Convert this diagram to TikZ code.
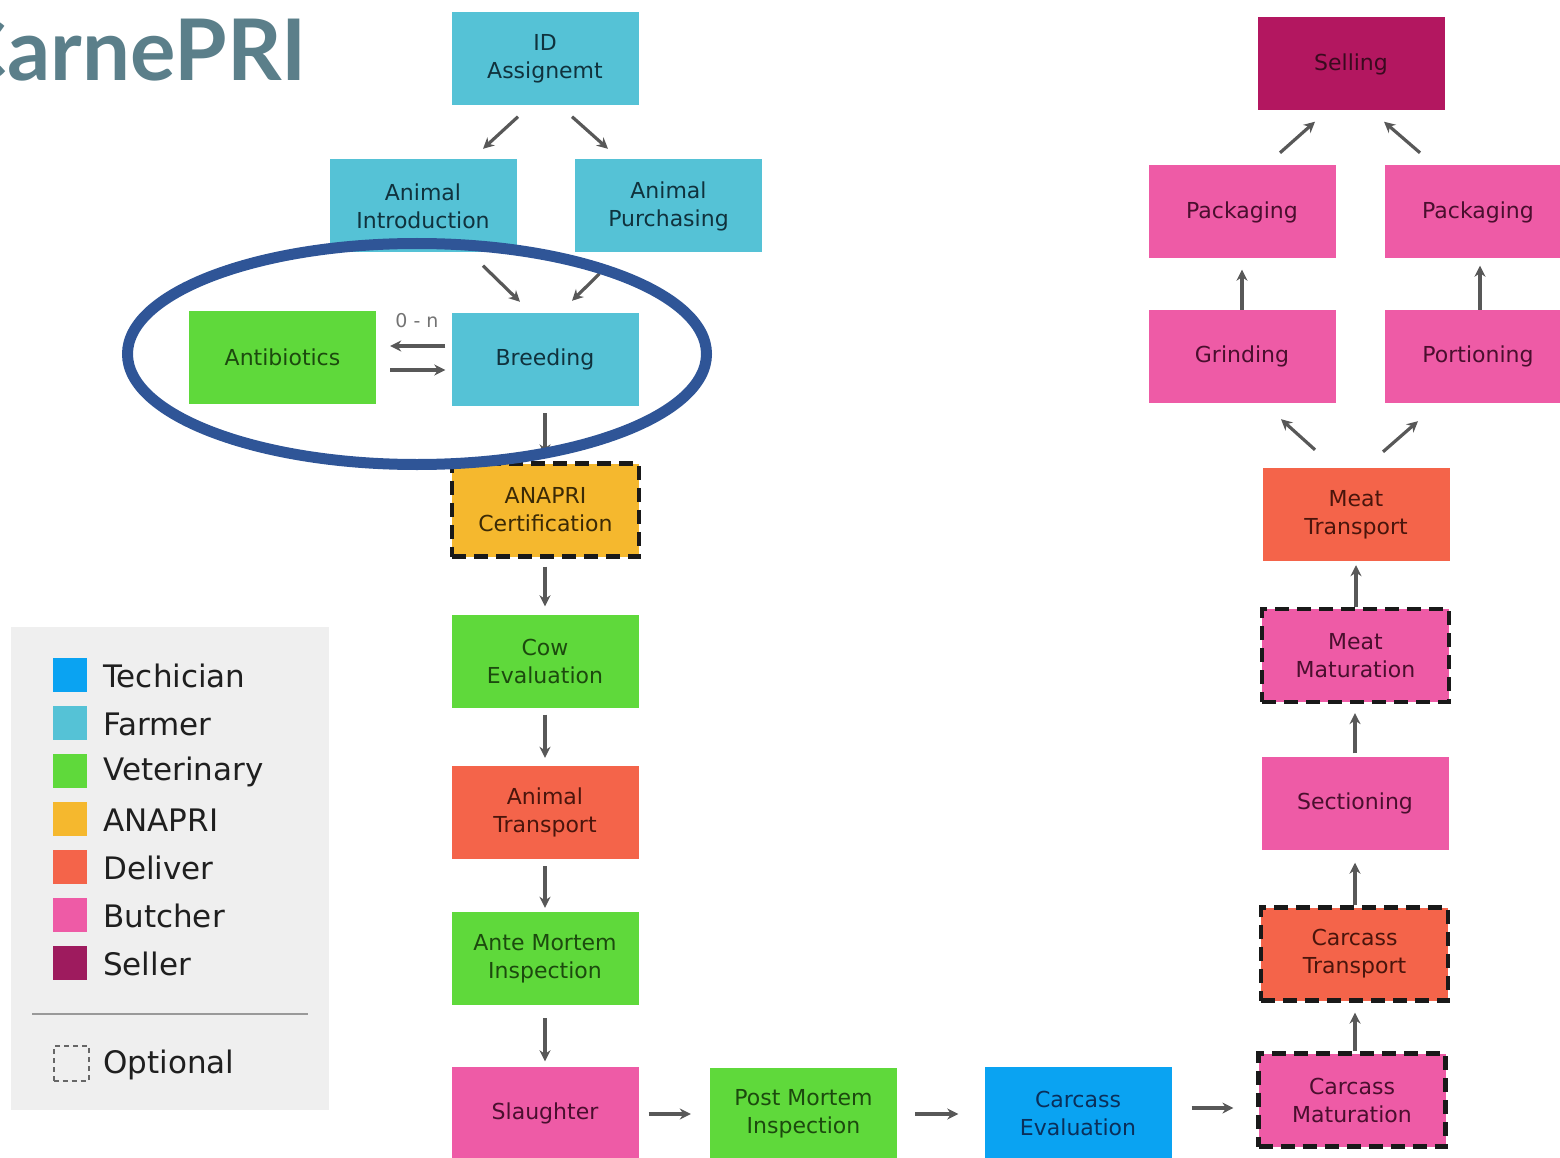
\documentclass[tikz,border=0pt]{standalone}
\usepackage{fontspec}
\setmainfont{DejaVu Sans}
\newfontfamily\titlefont{Lato}
\usetikzlibrary{arrows.meta,calc}

% role colours
\definecolor{cTech}{HTML}{0AA3F2}
\definecolor{cFarmer}{HTML}{55C2D6}
\definecolor{cVet}{HTML}{5FD93B}
\definecolor{cAnapri}{HTML}{F5B82E}
\definecolor{cDeliver}{HTML}{F4644A}
\definecolor{cButcher}{HTML}{EE5BA6}
\definecolor{cSeller}{HTML}{9E1B5E}
\definecolor{cSelling}{HTML}{B31760}
% text colours inside the boxes
\definecolor{tTech}{HTML}{0A2F5A}
\definecolor{tFarmer}{HTML}{10323D}
\definecolor{tVet}{HTML}{1C4A0E}
\definecolor{tAnapri}{HTML}{3B2A06}
\definecolor{tDeliver}{HTML}{4A150C}
\definecolor{tButcher}{HTML}{4A0F2E}
\definecolor{tSeller}{HTML}{3A0A1F}
% others
\definecolor{cArrow}{HTML}{585858}
\definecolor{cTitle}{HTML}{5B7F8A}
\definecolor{cRing}{HTML}{2F5597}
\definecolor{cLegendBg}{HTML}{EFEFEF}

\newcommand{\boxfont}{\fontsize{22}{28}\selectfont}
\newcommand{\legfont}{\fontsize{31}{36}\selectfont}

\tikzset{
  stage/.style={rectangle, minimum width=187pt, minimum height=93pt,
    inner sep=0pt, align=center, font=\boxfont},
  farmer/.style={stage, fill=cFarmer, text=tFarmer},
  vet/.style={stage, fill=cVet, text=tVet},
  anapri/.style={stage, fill=cAnapri, text=tAnapri},
  deliver/.style={stage, fill=cDeliver, text=tDeliver},
  butcher/.style={stage, fill=cButcher, text=tButcher},
  tech/.style={stage, fill=cTech, text=tTech},
  seller/.style={stage, fill=cSelling, text=tSeller},
  optional/.style={draw=black!90, line width=4.2pt, dash pattern=on 14pt off 8pt},
  flow/.style={draw=cArrow, line width=3.2pt, -{Stealth[length=11pt,width=11pt]}},
  swatch/.style={rectangle, minimum size=34pt, inner sep=0pt},
  legtext/.style={anchor=west, inner sep=0pt, font=\legfont, text=black!88},
}

\begin{document}
\begin{tikzpicture}[x=1pt, y=-1pt]
\useasboundingbox (0,0) rectangle (1560,1158);
\clip (0,0) rectangle (1560,1158);

% title
\node[anchor=base east, inner sep=0pt, text=cTitle,
  font=\titlefont\bfseries\fontsize{85}{90}\selectfont] (title) at (307,81) {CarnePRI};

% ---------- breeding column ----------
\node[farmer] (id) at (545,59) {ID\\Assignemt};
\node[farmer] (intro) at (423,206) {Animal\\Introduction};
\node[farmer] (purch) at (668.5,206) {Animal\\Purchasing};
\node[vet] (anti) at (282.5,357) {Antibiotics};
\node[farmer] (breed) at (545,359.5) {Breeding};
\node[anapri, optional] (cert) at (545.5,510) {ANAPRI\\Certification};
\node[vet] (cow) at (545,661) {Cow\\Evaluation};
\node[deliver] (atrans) at (545,812.5) {Animal\\Transport};
\node[vet] (ante) at (545,958.5) {Ante Mortem\\Inspection};
\node[butcher] (slaughter) at (545,1113) {Slaughter};
\node[vet] (post) at (803.5,1114) {Post Mortem\\Inspection};
\node[tech] (ceval) at (1078,1113) {Carcass\\Evaluation};

% ---------- butchery column ----------
\node[butcher, optional] (cmat) at (1352,1100) {Carcass\\Maturation};
\node[deliver, optional] (ctrans) at (1354.5,954) {Carcass\\Transport};
\node[butcher] (sect) at (1355,803) {Sectioning};
\node[butcher, optional] (mmat) at (1355.5,655.5) {Meat\\Maturation};
\node[deliver] (mtrans) at (1356,514.5) {Meat\\Transport};
\node[butcher] (grind) at (1242,356.5) {Grinding};
\node[butcher] (portion) at (1478,356.5) {Portioning};
\node[butcher] (packL) at (1242,212) {Packaging};
\node[butcher] (packR) at (1478,212) {Packaging};
\node[seller] (sell) at (1351,64) {Selling};

% ---------- flow arrows ----------
\draw[flow] ($(id.south)+(-27,11)$) -- ($(intro.north)+(60,-10.5)$);
\draw[flow] ($(id.south)+(27,11)$) -- ($(purch.north)+(-60.5,-10.5)$);
\draw[flow] ($(intro.south)+(60,13)$) -- ($(breed.north)+(-25,-11)$);
\draw[flow] ($(purch.south)+(-69,21)$) -- ($(breed.north)+(27,-12)$);
\draw[flow] ($(breed.west)+(-6,-13.5)$) -- ($(anti.east)+(14,-11)$);
\draw[flow] ($(anti.east)+(14,13)$) -- ($(breed.west)+(-6,10.5)$);
\node[text=black!55, font=\fontsize{19}{22}\selectfont, inner sep=0pt] (card) at (417,321) {0 - n};
\draw[flow] ($(breed.south)+(0,7)$) -- ($(cert.north)+(-0.5,-6)$);
\draw[flow] ($(cert.south)+(-0.5,8)$) -- ($(cow.north)+(0,-8)$);
\draw[flow] ($(cow.south)+(0,7)$) -- ($(atrans.north)+(0,-8)$);
\draw[flow] ($(atrans.south)+(0,7)$) -- ($(ante.north)+(0,-4)$);
\draw[flow] ($(ante.south)+(0,13)$) -- ($(slaughter.north)+(0,-5)$);
\draw[flow] ($(slaughter.east)+(10,1)$) -- ($(post.west)+(-19,0)$);
\draw[flow] ($(post.east)+(18,0)$) -- ($(ceval.west)+(-26,1)$);
\draw[flow] ($(ceval.east)+(20,-5)$) -- ($(cmat.west)+(-23,8)$);
\draw[flow] ($(cmat.north)+(3,0)$) -- ($(ctrans.south)+(0.5,10)$);
\draw[flow] ($(ctrans.north)+(0.5,0)$) -- ($(sect.south)+(0,13)$);
\draw[flow] ($(sect.north)+(0,-3)$) -- ($(mmat.south)+(-0.5,9)$);
\draw[flow] ($(mmat.north)+(0.5,0)$) -- ($(mtrans.south)+(0,4)$);
\draw[flow] ($(mtrans.north)+(-41,-18)$) -- ($(grind.south)+(39,16)$);
\draw[flow] ($(mtrans.north)+(27,-16)$) -- ($(portion.south)+(-60,18)$);
\draw[flow] (grind.north) -- ($(packL.south)+(0,11)$);
\draw[flow] ($(portion.north)+(2,0)$) -- ($(packR.south)+(2,7)$);
\draw[flow] ($(packL.north)+(38,-12.5)$) -- ($(sell.south)+(-36,11)$);
\draw[flow] ($(packR.north)+(-58,-12.5)$) -- ($(sell.south)+(33,11)$);

% ring around the antibiotic loop
\draw[cRing, line width=11pt] (417,354) ellipse [x radius=289.5, y radius=110.5];

% ---------- legend ----------
\fill[cLegendBg] (11,627) rectangle (329,1110);
\node[swatch, fill=cTech] (sw1) at (70,675) {};
\node[swatch, fill=cFarmer] (sw2) at (70,723) {};
\node[swatch, fill=cVet] (sw3) at (70,771) {};
\node[swatch, fill=cAnapri] (sw4) at (70,819) {};
\node[swatch, fill=cDeliver] (sw5) at (70,867) {};
\node[swatch, fill=cButcher] (sw6) at (70,915) {};
\node[swatch, fill=cSeller] (sw7) at (70,963) {};
\node[legtext] (lg1) at (103,676) {Techician};
\node[legtext] (lg2) at (103,724) {Farmer};
\node[legtext] (lg3) at (103,772) {Veterinary};
\node[legtext] (lg4) at (103,820) {ANAPRI};
\node[legtext] (lg5) at (103,868) {Deliver};
\node[legtext] (lg6) at (103,916) {Butcher};
\node[legtext] (lg7) at (103,964) {Seller};
\draw[black!40, line width=1.5pt] (32,1014) -- (308,1014);
\node[rectangle, minimum size=35pt, inner sep=0pt, draw=black!60, line width=2pt,
  dash pattern=on 5pt off 4pt] (sw8) at (71,1063.5) {};
\node[legtext] (lg8) at (103,1065) {Optional};
\end{tikzpicture}
\end{document}
